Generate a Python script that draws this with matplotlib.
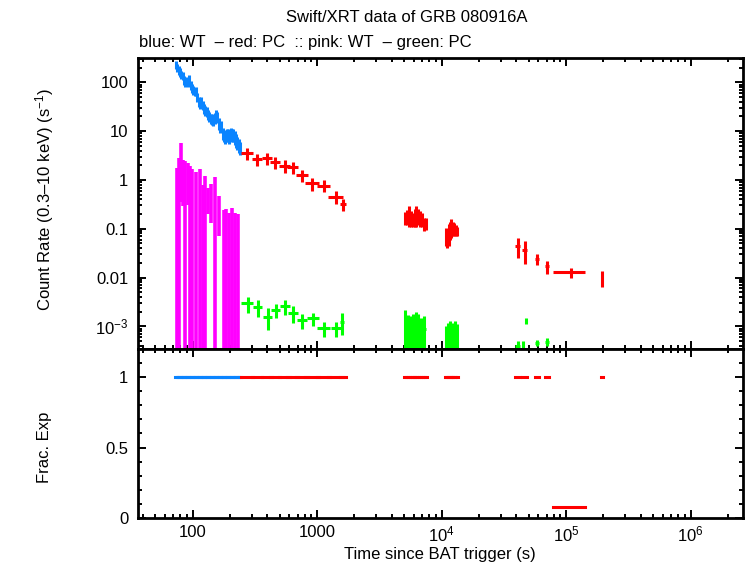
import numpy as np
import matplotlib
matplotlib.use('Agg')
import matplotlib.pyplot as plt
from matplotlib.ticker import FixedLocator, FixedFormatter, LogLocator, MultipleLocator, NullFormatter

plt.rcParams['font.family'] = ['Liberation Sans', 'DejaVu Sans']
plt.rcParams['mathtext.fontset'] = 'custom'
plt.rcParams['mathtext.rm'] = 'Liberation Sans'
plt.rcParams['mathtext.it'] = 'Liberation Sans:italic'
plt.rcParams['mathtext.default'] = 'regular'

# WT mode, settling (blue)
blue_t = [73.7, 75.5, 77.4, 79.4, 81.4, 83.4, 85.4, 87.6, 89.8, 92.0, 94.3, 96.7, 99.1, 101.5,
          104.0, 106.7, 109.3, 112.1, 114.9, 117.7, 120.7, 123.7, 126.8, 130.0, 133.2, 136.6,
          140.0, 143.4, 147.0, 150.7, 154.5, 158.2, 162.3, 166.3, 170.4, 174.7, 179.1, 183.5,
          188.1, 192.8, 197.6, 202.6, 207.7, 212.8, 218.2, 223.6, 229.2, 234.9, 240.7]
blue_dt = [0.9, 0.9, 1.0, 1.0, 1.0, 1.0, 1.1, 1.1, 1.1, 1.2, 1.2, 1.2, 1.2, 1.3,
           1.3, 1.3, 1.4, 1.4, 1.4, 1.5, 1.5, 1.5, 1.6, 1.6, 1.7, 1.7,
           1.7, 1.8, 1.8, 1.9, 1.9, 2.0, 2.0, 2.1, 2.1, 2.2, 2.2, 2.3,
           2.3, 2.4, 2.5, 2.5, 2.6, 2.7, 2.7, 2.8, 2.9, 2.9, 3.0]
blue_rate = [234, 200, 179, 161, 146, 137, 112, 100, 107, 103, 117, 88.5, 75.5, 69.8,
             64.5, 66.6, 51.0, 40.3, 37.2, 40.3, 34.4, 29.4, 27.2, 25.1, 22.2, 19.9,
             18.4, 17.8, 17.0, 18.9, 21.5, 19.9, 14.5, 12.4, 13.0, 9.04, 8.36, 7.73,
             8.36, 8.63, 7.97, 9.04, 8.36, 8.36, 7.73, 6.6, 5.92, 5.21, 4.6]
blue_err = [45, 40, 35, 32, 29, 27, 23, 20, 21, 21, 23, 18, 15, 14,
            13, 13, 11, 9.0, 8.2, 9.0, 7.8, 6.8, 6.3, 5.9, 5.3, 4.8,
            4.5, 4.4, 4.2, 4.7, 5.3, 5.0, 3.8, 3.3, 3.5, 2.6, 2.4, 2.3,
            2.5, 2.6, 2.4, 2.7, 2.5, 2.5, 2.4, 2.0, 1.8, 1.6, 1.4]
blue_frac = [1.0] * len(blue_t)

# WT mode, pile-up / background (pink)
pink_t = [75.5, 78.3, 81.3, 84.5, 87.7, 91.5, 95.0, 99.6, 105.9, 114.5, 121.0,
          126.7, 132.5, 141.6, 150.8, 164.2, 177.4, 186.9, 195.4, 207.7, 219.5, 232.1]
pink_rate = [0.85, 1.3, 2.98, 1.45, 1.1, 1.25, 0.9, 0.75, 0.7, 0.8, 0.38,
             0.55, 0.44, 0.48, 0.55, 0.27, 0.11, 0.12, 0.1, 0.13, 0.1, 0.09]
pink_err = [0.94, 1.48, 2.62, 1.16, 1.3, 0.95, 1.04, 0.91, 0.78, 0.86, 0.41,
            0.65, 0.24, 0.35, 0.62, 0.2, 0.13, 0.14, 0.11, 0.14, 0.11, 0.11]

# PC mode (red)
red_t = [275, 331, 399, 463, 550, 638, 759, 916, 1138, 1422, 1608,
         5080, 5280, 5480, 5680, 5880, 6080, 6280, 6480, 6700, 6950, 7200, 7450,
         10800, 11100, 11400, 11700, 12000, 12300, 12650, 13000, 13400,
         40800, 46500, 58400, 70200, 110500, 195000]
red_dt = [30, 33, 39, 45, 54, 60, 83, 120, 130, 190, 90,
          100, 100, 100, 100, 100, 100, 100, 100, 110, 120, 120, 130,
          150, 150, 150, 150, 150, 150, 170, 170, 200,
          1600, 2100, 1850, 2600, 32500, 5000]
red_rate = [3.52, 2.66, 2.78, 2.3, 1.97, 1.82, 1.27, 0.855, 0.766, 0.455, 0.317,
            0.17, 0.18, 0.2, 0.17, 0.16, 0.18, 0.2, 0.19, 0.17, 0.16, 0.13, 0.13,
            0.075, 0.07, 0.085, 0.1, 0.11, 0.105, 0.1, 0.095, 0.09,
            0.045, 0.037, 0.024, 0.017, 0.0128, 0.0101]
red_err = [0.9, 0.7, 0.75, 0.65, 0.55, 0.5, 0.36, 0.26, 0.21, 0.13, 0.085,
           0.05, 0.06, 0.09, 0.06, 0.05, 0.07, 0.09, 0.07, 0.06, 0.05, 0.04, 0.035,
           0.03, 0.03, 0.04, 0.04, 0.045, 0.035, 0.03, 0.025, 0.02,
           0.02, 0.018, 0.006, 0.005, 0.0028, 0.0036]
red_frac = [1.0] * 36 + [0.08, 1.0]

# PC mode, background (green)
green_t = [277, 334, 402, 466, 552, 646, 763, 935, 1140, 1420, 1600,
           5100, 5350, 5600, 5900, 6200, 6500, 6900, 7300,
           10900, 11300, 11800, 12300, 12800, 13300,
           40800, 45200, 47600, 58400, 70200]
green_dt = [30, 28, 34, 39, 50, 60, 70, 110, 135, 125, 60,
            120, 120, 130, 140, 150, 150, 180, 200,
            200, 200, 250, 250, 250, 250,
            1600, 600, 1000, 1850, 2600]
green_rate = [0.00297, 0.00253, 0.00158, 0.00217, 0.00263, 0.00186, 0.00135, 0.00147,
              0.00091, 0.00091, 0.00125,
              0.0011, 0.001, 0.0008, 0.0009, 0.0011, 0.0009, 0.0008, 0.0009,
              0.0006, 0.0007, 0.0008, 0.0007, 0.0008, 0.0007,
              0.00039, 0.0004, 0.0013, 0.00046, 0.00048]
green_err = [0.0011, 0.001, 0.00075, 0.0007, 0.0009, 0.0007, 0.00045, 0.00045,
             0.0003, 0.0003, 0.0006,
             0.0011, 0.0007, 0.0008, 0.0009, 0.0009, 0.0009, 0.0007, 0.0007,
             0.0004, 0.0005, 0.0005, 0.0005, 0.0005, 0.0004,
             0.0001, 0.0001, 0.0002, 0.00007, 0.00009]

c_blue = '#0a84ff'
c_red = '#ff0000'
c_pink = '#ff00ff'
c_green = '#00ff00'

fig = plt.figure(figsize=(7.46, 5.68), dpi=100)
ax1 = fig.add_axes([0.185, 0.3856, 0.811, 0.5123])
ax2 = fig.add_axes([0.185, 0.088, 0.811, 0.2976], sharex=ax1)

ew = 2.2

ax1.errorbar(pink_t, pink_rate, yerr=pink_err, fmt='none', ecolor=c_pink, elinewidth=2.6, capsize=0)
ax1.errorbar(blue_t, blue_rate, xerr=blue_dt, yerr=blue_err, fmt='none', ecolor=c_blue, elinewidth=ew, capsize=0)
ax1.errorbar(green_t, green_rate, xerr=green_dt, yerr=green_err, fmt='none', ecolor=c_green, elinewidth=ew, capsize=0)
ax1.errorbar(red_t, red_rate, xerr=red_dt, yerr=red_err, fmt='none', ecolor=c_red, elinewidth=ew, capsize=0)

eb = ax2.errorbar(blue_t, blue_frac, xerr=blue_dt, fmt='none', ecolor=c_blue, elinewidth=ew, capsize=0)
eb[2][0].set_capstyle('projecting')
eb = ax2.errorbar(red_t, red_frac, xerr=red_dt, fmt='none', ecolor=c_red, elinewidth=ew, capsize=0)
eb[2][0].set_capstyle('projecting')

ax1.set_xscale('log')
ax1.set_yscale('log')
ax1.set_xlim(36.5, 2.64e6)
ax1.set_ylim(3.44e-4, 316)
ax2.set_ylim(0, 1.2)

ax1.yaxis.set_major_locator(FixedLocator([1e-3, 0.01, 0.1, 1, 10, 100]))
ax1.yaxis.set_major_formatter(FixedFormatter(['$10^{-3}$', '0.01', '0.1', '1', '10', '100']))
ax1.yaxis.set_minor_locator(LogLocator(base=10, subs=np.arange(2, 10), numticks=20))
ax1.yaxis.set_minor_formatter(NullFormatter())

ax2.xaxis.set_major_locator(FixedLocator([100, 1000, 1e4, 1e5, 1e6]))
ax2.xaxis.set_major_formatter(FixedFormatter(['100', '1000', '$10^4$', '$10^5$', '$10^6$']))
ax2.xaxis.set_minor_locator(LogLocator(base=10, subs=np.arange(2, 10), numticks=20))
ax2.xaxis.set_minor_formatter(NullFormatter())
ax2.yaxis.set_major_locator(FixedLocator([0, 0.5, 1]))
ax2.yaxis.set_major_formatter(FixedFormatter(['0', '0.5', '1']))
ax2.yaxis.set_minor_locator(MultipleLocator(0.1))

for ax in (ax1, ax2):
    ax.tick_params(which='both', direction='in', top=True, right=True, width=1.4, labelsize=12)
    ax.tick_params(which='major', length=6)
    ax.tick_params(which='minor', length=3)
    for s in ax.spines.values():
        s.set_linewidth(2.0)
ax1.tick_params(labelbottom=False)
ax1.tick_params(axis='y', pad=7)
ax2.tick_params(axis='y', pad=7)
ax2.tick_params(axis='x', pad=5)

fig.text(407 / 746, 1 - 17 / 568, 'Swift/XRT data of GRB 080916A', ha='center', va='center', fontsize=12)
fig.text(139 / 746, 1 - 42 / 568, 'blue: WT  \u2013 red: PC  :: pink: WT  \u2013 green: PC',
         ha='left', va='center', fontsize=12)
fig.text(45 / 746, 1 - 200 / 568, 'Count Rate (0.3\u201310 keV) (s$^{-1}$)', rotation=90,
         ha='center', va='center', fontsize=12)
fig.text(45 / 746, 1 - 447 / 568, 'Frac. Exp', rotation=90, ha='center', va='center', fontsize=12)
fig.text(440 / 746, 1 - 554 / 568, 'Time since BAT trigger (s)', ha='center', va='center', fontsize=12)

fig.savefig('out.png', dpi=100)
